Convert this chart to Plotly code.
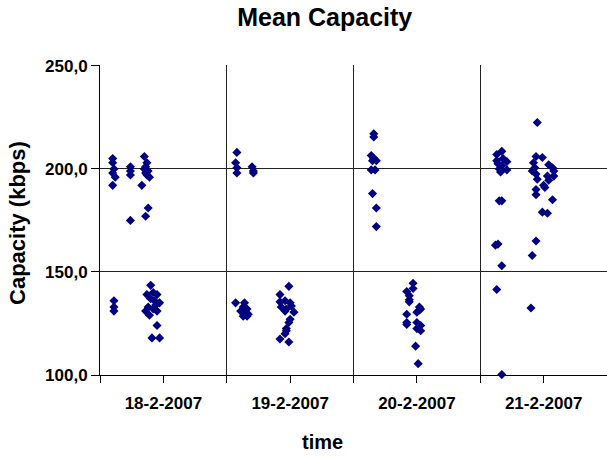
import plotly.graph_objects as go

# x = time in days from the start of the plotted period (18-2-2007 column starts at 0)
day_labels = ["18-2-2007", "19-2-2007", "20-2-2007", "21-2-2007"]
label_pos = [0.5, 1.5, 2.5, 3.5]
day_bounds = [0, 1, 2, 3, 4]

time_18 = [0.10, 0.10, 0.11, 0.10, 0.12, 0.10, 0.24, 0.24, 0.24, 0.24,
           0.35, 0.37, 0.36, 0.35, 0.38, 0.36, 0.37, 0.39, 0.33, 0.38, 0.36,
           0.11, 0.11, 0.11, 0.40, 0.42, 0.37, 0.45, 0.40, 0.43, 0.47, 0.38,
           0.44, 0.36, 0.45, 0.39, 0.42, 0.45, 0.41, 0.47]
cap_18 = [205, 203, 200, 198, 196, 192, 201, 199, 197, 175,
          206, 203, 201, 200, 199, 198, 197, 196, 192, 181, 177,
          136, 133, 131, 143.5, 140, 139, 139, 137, 136, 135, 133,
          134, 131, 131, 129, 132, 124, 118, 118]

time_19 = [1.08, 1.07, 1.08, 1.08, 1.20, 1.21, 1.21,
           1.07, 1.14, 1.13, 1.16, 1.11, 1.14, 1.17, 1.13, 1.16,
           1.49, 1.42, 1.42, 1.46, 1.50, 1.51, 1.43, 1.47, 1.46, 1.53,
           1.49, 1.47, 1.46, 1.42, 1.49, 1.47, 1.50]
cap_19 = [208, 203, 200.5, 198, 201, 199, 198,
          135, 135, 133, 132, 131, 130.5, 129.5, 128.5, 128.5,
          143, 139, 135.5, 136, 135, 133.5, 133, 132, 131, 130.5,
          125.5, 122.5, 120, 117.5, 116, 121.5, 127]

time_20 = [2.16, 2.16, 2.14, 2.16, 2.18, 2.15, 2.14, 2.17, 2.15, 2.18, 2.18,
           2.47, 2.47, 2.42, 2.44, 2.44, 2.44, 2.52, 2.53, 2.50, 2.52,
           2.42, 2.42, 2.42, 2.50, 2.53, 2.50, 2.53, 2.49, 2.51]
cap_20 = [217, 215.5, 206.5, 205, 204, 204, 199.5, 199.5, 188, 181, 172,
          144.5, 142, 140.5, 138.5, 136.5, 135.5, 133, 132, 130.5, 131.5,
          129.5, 125.5, 124.5, 125.5, 124, 122.5, 121.5, 114, 105.5]

time_21 = [3.45, 3.17, 3.13, 3.18, 3.13, 3.21, 3.14, 3.17, 3.15, 3.21, 3.16,
           3.44, 3.49, 3.42, 3.43, 3.54, 3.57, 3.58, 3.41, 3.44, 3.53, 3.58,
           3.45, 3.54, 3.50, 3.51, 3.44, 3.44,
           3.17, 3.15, 3.57, 3.49, 3.53,
           3.14, 3.12, 3.44, 3.41, 3.17, 3.13, 3.40, 3.17]
cap_21 = [222.5, 208.5, 207, 205, 204, 203.5, 202.5, 201.5, 200, 199.5, 198.5,
          206, 205.5, 203, 200.5, 202, 200.5, 199, 199, 197.5, 196.5, 196.5,
          195, 194.5, 192, 191, 190, 187.5,
          184.5, 184.5, 185, 179, 178.5,
          163.5, 163, 165, 158, 153, 141.5, 132.5, 100.2]

times = time_18 + time_19 + time_20 + time_21
caps = cap_18 + cap_19 + cap_20 + cap_21

fig = go.Figure(go.Scatter(
    x=times, y=caps, mode="markers",
    marker=dict(symbol="diamond", size=7, color="#000080"),
    cliponaxis=False,
))

font_main = "Liberation Sans, Arial, sans-serif"

fig.update_layout(
    width=607, height=457,
    margin=dict(l=100, r=0, t=65, b=82),
    paper_bgcolor="white", plot_bgcolor="white",
    separators=",.",
    showlegend=False,
    title=dict(text="<b>Mean Capacity</b>", x=0.535, xanchor="center",
               y=0.963, yanchor="middle",
               font=dict(family=font_main, size=25, color="black")),
    font=dict(family=font_main, color="black"),
    annotations=[
        dict(text="<b>time</b>", xref="paper", yref="paper",
             x=0.438, y=-0.215, xanchor="center", yanchor="middle",
             showarrow=False, font=dict(size=20, color="black")),
        dict(text="<b>Capacity (kbps)</b>", xref="paper", yref="paper",
             x=-0.164, y=0.49, xanchor="center", yanchor="middle", textangle=-90,
             showarrow=False, font=dict(size=22, color="black")),
    ],
)

fig.update_xaxes(
    range=[0, 4], tickmode="array", tickvals=label_pos, ticktext=day_labels,
    showgrid=False, zeroline=False,
    showline=True, linecolor="black", linewidth=1,
    ticks="outside", ticklen=7, tickcolor="black", ticklabelstandoff=6,
    tickfont=dict(size=17, family=font_main, weight="bold"),
    minor=dict(tickmode="array", tickvals=day_bounds, showgrid=True,
               gridcolor="#222222", gridwidth=1, ticks="outside", ticklen=7,
               tickcolor="black"),
)

fig.update_yaxes(
    range=[100, 250.4], dtick=50, tick0=100, tickformat=".1f",
    showgrid=True, gridcolor="#222222", gridwidth=1, zeroline=False,
    showline=True, linecolor="black", linewidth=1,
    ticks="outside", ticklen=8, tickcolor="black",
    tickfont=dict(size=17, family=font_main, weight="bold"),
)

fig.write_html("out.html", config={"displayModeBar": False},
               post_script="document.body.style.margin='0';")
